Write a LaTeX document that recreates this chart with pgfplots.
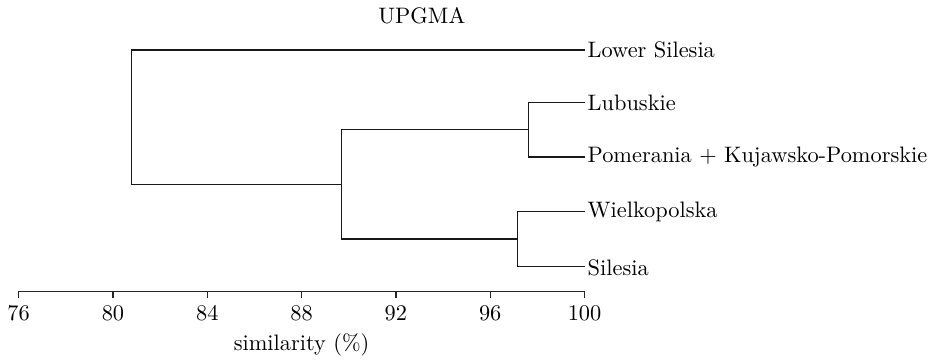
\documentclass[border=0pt]{standalone}
\usepackage{pgfplots}
\pgfplotsset{compat=1.18}
\begin{document}
\begin{tikzpicture}
\begin{axis}[
  scale only axis,
  width=253pt, height=121pt,
  xmin=76, xmax=100, ymin=0.54, ymax=5.5,
  axis x line=bottom, axis y line=none,
  axis line style={-, line width=0.6pt, black!85},
  xtick={76,80,84,88,92,96,100},
  tick align=outside, major tick length=3pt,
  tick style={line width=0.6pt, black!85},
  xlabel={similarity (\%)},
  xlabel style={yshift=1pt},
  clip=false,
]
\addplot[line width=0.6pt, black!90, mark=none] coordinates {(100,4) (97.62,4) (97.62,3) (100,3)};
\addplot[line width=0.6pt, black!90, mark=none] coordinates {(100,2) (97.15,2) (97.15,1) (100,1)};
\addplot[line width=0.6pt, black!90, mark=none] coordinates {(97.62,3.5) (89.68,3.5) (89.68,1.5) (97.15,1.5)};
\addplot[line width=0.6pt, black!90, mark=none] coordinates {(100,4.96) (80.8,4.96) (80.8,2.5) (89.68,2.5)};
\node[anchor=west, inner sep=1.2pt] at (axis cs:100,4.96) {Lower Silesia};
\node[anchor=west, inner sep=1.2pt] at (axis cs:100,4) {Lubuskie};
\node[anchor=west, inner sep=1.2pt] at (axis cs:100,3) {Pomerania + Kujawsko-Pomorskie};
\node[anchor=west, inner sep=1.2pt] at (axis cs:100,2) {Wielkopolska};
\node[anchor=west, inner sep=1.2pt] at (axis cs:100,0.97) {Silesia};
\node at (axis cs:93.1,5.59) {UPGMA};
\end{axis}
\end{tikzpicture}
\end{document}
